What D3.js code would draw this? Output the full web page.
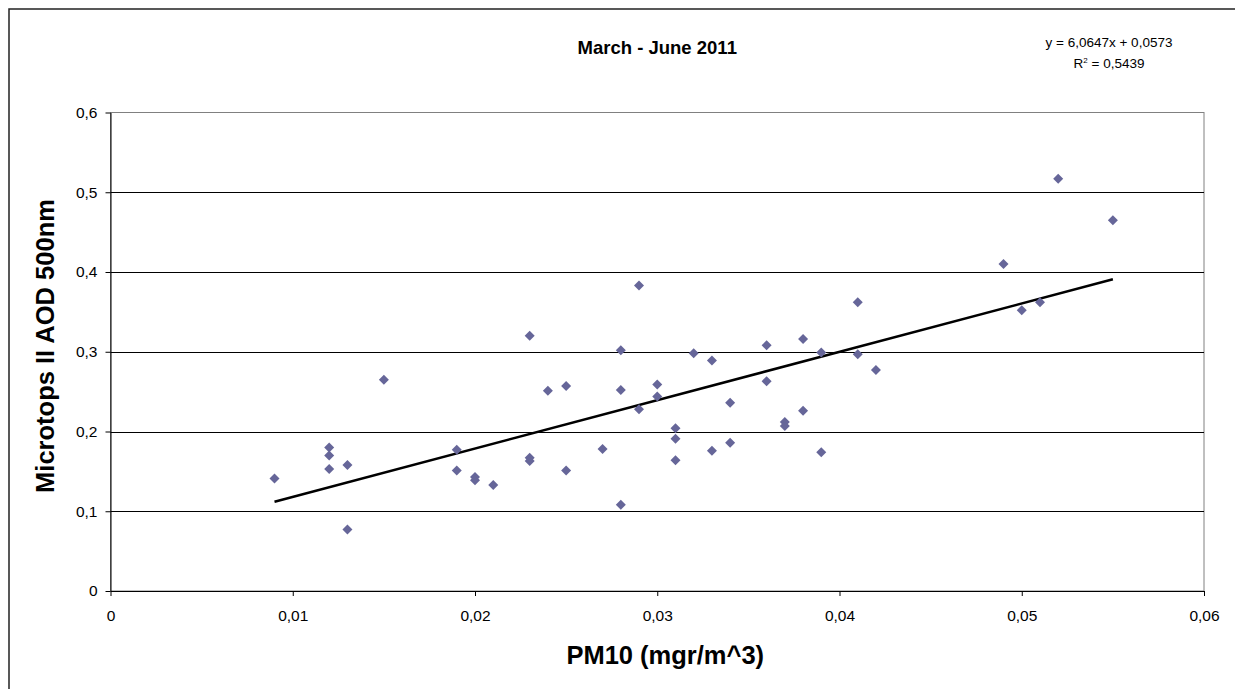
<!DOCTYPE html>
<html>
<head>
<meta charset="utf-8">
<script src="https://cdn.jsdelivr.net/npm/d3@7"></script>
<style>
  body { margin: 0; background: #fff; }
  svg { display: block; font-family: "Liberation Sans", Arial, sans-serif; }
  .axis path, .axis line { stroke: #000; }
  .axis text { font-size: 15.5px; fill: #000; }
</style>
</head>
<body>
<div id="chart"></div>
<script>
// PM10 (mgr/m^3) vs Microtops II AOD 500nm
var pm10 = [0.009, 0.012, 0.012, 0.012, 0.013, 0.013, 0.015, 0.019, 0.019, 0.020,
            0.020, 0.021, 0.023, 0.023, 0.023, 0.024, 0.025, 0.025, 0.027, 0.028,
            0.028, 0.028, 0.029, 0.029, 0.030, 0.030, 0.031, 0.031, 0.031, 0.032,
            0.033, 0.033, 0.034, 0.034, 0.036, 0.036, 0.037, 0.037, 0.038, 0.038,
            0.039, 0.039, 0.041, 0.041, 0.042, 0.049, 0.050, 0.051, 0.052, 0.055];
var aod = [0.141, 0.180, 0.170, 0.153, 0.158, 0.077, 0.265, 0.177, 0.151, 0.143,
           0.139, 0.133, 0.167, 0.163, 0.320, 0.251, 0.257, 0.151, 0.178, 0.302,
           0.252, 0.108, 0.383, 0.228, 0.259, 0.244, 0.204, 0.191, 0.164, 0.298,
           0.289, 0.176, 0.236, 0.186, 0.308, 0.263, 0.212, 0.207, 0.316, 0.226,
           0.299, 0.174, 0.362, 0.297, 0.277, 0.410, 0.352, 0.362, 0.517, 0.465];

var xTicks = [0, 0.01, 0.02, 0.03, 0.04, 0.05, 0.06];
var yTicks = [0, 0.1, 0.2, 0.3, 0.4, 0.5, 0.6];

// linear trend shown on the chart
var slope = 6.0647, intercept = 0.0573, r2 = 0.5439;

var width = 1235, height = 689;
var plotL = 110.5, plotR = 1204, plotT = 112.5, plotB = 591;

var fmt = function(d) { return String(d).replace(".", ","); };

var svg = d3.select("#chart").append("svg")
    .attr("width", width)
    .attr("height", height);

// chart frame (runs off the right and bottom of the picture)
svg.append("rect")
    .attr("x", 9).attr("y", 9)
    .attr("width", 1400).attr("height", 900)
    .attr("fill", "#fff")
    .attr("stroke", "#222")
    .attr("stroke-width", 1.5);

var x = d3.scaleLinear().domain([0, 0.06]).range([plotL, plotR]);
var y = d3.scaleLinear().domain([0, 0.6]).range([plotB, plotT]);

// plot area border
svg.append("rect")
    .attr("x", plotL).attr("y", plotT)
    .attr("width", plotR - plotL).attr("height", plotB - plotT)
    .attr("fill", "none")
    .attr("stroke", "#808080");

// horizontal gridlines
svg.append("g").selectAll("line")
    .data(yTicks.slice(1, -1))
  .enter().append("line")
    .attr("x1", plotL).attr("x2", plotR)
    .attr("y1", function(d) { return Math.round(y(d)) + 0.5; })
    .attr("y2", function(d) { return Math.round(y(d)) + 0.5; })
    .attr("stroke", "#000");

svg.append("g")
    .attr("class", "axis")
    .attr("transform", "translate(0," + plotB + ")")
    .call(d3.axisBottom(x).tickValues(xTicks).tickFormat(fmt).tickSize(5).tickSizeOuter(0).tickPadding(14));

svg.append("g")
    .attr("class", "axis")
    .attr("transform", "translate(" + plotL + ",0)")
    .call(d3.axisLeft(y).tickValues(yTicks).tickFormat(fmt).tickSize(5).tickSizeOuter(0).tickPadding(8));

// trendline between the smallest and largest x
var xr = d3.extent(pm10);
svg.append("line")
    .attr("x1", x(xr[0])).attr("y1", y(slope * xr[0] + intercept))
    .attr("x2", x(xr[1])).attr("y2", y(slope * xr[1] + intercept))
    .attr("stroke", "#000")
    .attr("stroke-width", 2.5);

var diamond = d3.symbol().type(d3.symbolSquare).size(50);
svg.append("g").selectAll("path")
    .data(pm10)
  .enter().append("path")
    .attr("d", diamond)
    .attr("transform", function(d, i) { return "translate(" + x(d) + "," + y(aod[i]) + ")rotate(45)"; })
    .attr("fill", "#666699");

svg.append("text")
    .attr("x", (plotL + plotR) / 2).attr("y", 54)
    .attr("text-anchor", "middle")
    .style("font-size", "18.5px").style("font-weight", "bold")
    .text("March - June 2011");

svg.append("text")
    .attr("x", (plotL + plotR) / 2 + 8).attr("y", 664)
    .attr("text-anchor", "middle")
    .style("font-size", "25.5px").style("font-weight", "bold")
    .text("PM10 (mgr/m^3)");

svg.append("text")
    .attr("transform", "translate(54,346)rotate(-90)")
    .attr("text-anchor", "middle")
    .style("font-size", "25.5px").style("font-weight", "bold")
    .text("Microtops II AOD 500nm");

var eq = svg.append("text")
    .attr("text-anchor", "middle")
    .style("font-size", "13.5px");
eq.append("tspan")
    .attr("x", 1109).attr("y", 47)
    .text("y = " + fmt(slope) + "x + " + fmt(intercept));
var r = eq.append("tspan")
    .attr("x", 1109).attr("y", 68)
    .text("R");
r.append("tspan").attr("dy", -5).style("font-size", "8px").text("2");
r.append("tspan").attr("dy", 5).text(" = " + fmt(r2));
</script>
</body>
</html>
